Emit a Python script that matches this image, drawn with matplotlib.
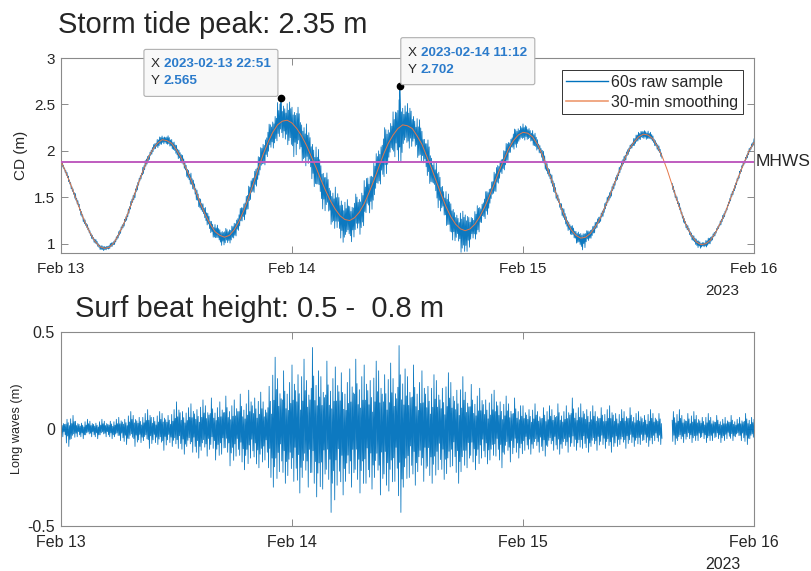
import numpy as np
import matplotlib
matplotlib.use('Agg')
import matplotlib.pyplot as plt
import matplotlib.dates as mdates
from matplotlib.patches import FancyBboxPatch
from matplotlib.lines import Line2D
from matplotlib.ticker import FuncFormatter
from matplotlib.transforms import IdentityTransform, blended_transform_factory

plt.rcParams['font.family'] = ['Liberation Sans', 'DejaVu Sans']

nan = np.nan
start = np.datetime64('2023-02-13T00:00:00')

# ---------------- data ----------------
bin_hours = np.arange(0, 72.5, 0.5)          # 30-min bins from Feb 13 00:00

tide_smooth = [
    1.89, 1.77, 1.64, 1.50, 1.36, 1.23, 1.12, 1.03, 0.97, 0.95,
    0.96, 1.01, 1.10, 1.21, 1.34, 1.49, 1.64, 1.78, 1.91, 2.01,
    2.08, 2.12, 2.11, 2.08, 2.01, 1.92, 1.81, 1.69, 1.56, 1.43,
    1.31, 1.21, 1.13, 1.09, 1.07, 1.09, 1.15, 1.24, 1.36, 1.50,
    1.65, 1.81, 1.96, 2.09, 2.20, 2.28, 2.32, 2.33, 2.30, 2.24,
    2.16, 2.06, 1.94, 1.82, 1.69, 1.57, 1.46, 1.37, 1.30, 1.26,
    1.25, 1.28, 1.34, 1.43, 1.55, 1.68, 1.82, 1.96, 2.08, 2.17,
    2.24, 2.28, 2.27, 2.24, 2.16, 2.07, 1.94, 1.81, 1.67, 1.53,
    1.40, 1.29, 1.21, 1.16, 1.14, 1.16, 1.21, 1.29, 1.39, 1.51,
    1.64, 1.78, 1.90, 2.02, 2.11, 2.17, 2.20, 2.19, 2.15, 2.07,
    1.96, 1.82, 1.68, 1.52, 1.38, 1.25, 1.15, 1.09, 1.06, 1.07,
    1.11, 1.18, 1.27, 1.39, 1.51, 1.65, 1.78, 1.90, 2.01, 2.09,
    2.15, 2.18, 2.17, 2.13, 2.04, 1.93, 1.79, 1.63, 1.47, 1.32,
    1.19, 1.09, 1.02, 0.99, 1.00, 1.04, 1.12, 1.22, 1.33, 1.47,
    1.61, 1.75, 1.88, 2.00, 2.09,
]

# spread of the 60 s raw samples above / below the smoothed curve in each bin
raw_up = [
    0.02, 0.03, 0.02, 0.04, 0.02, 0.03, 0.02, 0.03, 0.02, 0.02, 0.03, 0.02,
    0.03, 0.02, 0.04, 0.03, 0.03, 0.05, 0.03, 0.04, 0.05, 0.04, 0.06, 0.05,
    0.05, 0.06, 0.04, 0.07, 0.05, 0.06, 0.08, 0.05, 0.09, 0.06, 0.09, 0.07,
    0.07, 0.11, 0.08, 0.12, 0.09, 0.15, 0.11, 0.17, 0.13, 0.24, 0.16, 0.21,
    0.17, 0.25, 0.14, 0.23, 0.16, 0.26, 0.15, 0.22, 0.13, 0.24, 0.17, 0.22,
    0.15, 0.24, 0.16, 0.25, 0.14, 0.22, 0.18, 0.26, 0.17, 0.25, 0.30, 0.21,
    0.24, 0.15, 0.22, 0.14, 0.21, 0.13, 0.20, 0.12, 0.19, 0.14, 0.11, 0.20,
    0.17, 0.11, 0.16, 0.10, 0.14, 0.09, 0.13, 0.08, 0.12, 0.07, 0.11, 0.08,
    0.09, 0.06, 0.08, 0.05, 0.07, 0.05, 0.06, 0.04, 0.06, 0.04, 0.06, 0.05,
    0.05, 0.06, 0.04, 0.05, 0.03, 0.05, 0.04, 0.03, 0.05, 0.04, 0.03, 0.05,
    0.05, 0.04, 0.05, 0.03, 0.04, nan, nan, 0.03, 0.04, 0.02, 0.03, 0.03,
    0.03, 0.02, 0.04, 0.03, 0.02, 0.03, 0.02, 0.03, 0.02, 0.03, 0.02, 0.03,
    0.04,
]
raw_dn = [
    0.02, 0.02, 0.03, 0.02, 0.04, 0.02, 0.03, 0.02, 0.03, 0.02, 0.02, 0.03,
    0.03, 0.04, 0.03, 0.05, 0.03, 0.04, 0.04, 0.03, 0.05, 0.04, 0.04, 0.05,
    0.06, 0.04, 0.07, 0.05, 0.08, 0.05, 0.07, 0.09, 0.06, 0.10, 0.07, 0.09,
    0.10, 0.07, 0.12, 0.08, 0.13, 0.09, 0.16, 0.12, 0.18, 0.14, 0.20, 0.26,
    0.34, 0.17, 0.26, 0.15, 0.25, 0.16, 0.27, 0.15, 0.24, 0.17, 0.26, 0.16,
    0.24, 0.15, 0.25, 0.14, 0.26, 0.17, 0.23, 0.28, 0.16, 0.26, 0.39, 0.20,
    0.23, 0.14, 0.22, 0.15, 0.21, 0.13, 0.23, 0.14, 0.19, 0.22, 0.15, 0.25,
    0.23, 0.13, 0.17, 0.10, 0.15, 0.09, 0.13, 0.10, 0.12, 0.07, 0.11, 0.07,
    0.08, 0.06, 0.08, 0.05, 0.07, 0.05, 0.06, 0.04, 0.06, 0.07, 0.05, 0.08,
    0.13, 0.06, 0.06, 0.04, 0.05, 0.03, 0.05, 0.04, 0.03, 0.04, 0.03, 0.04,
    0.04, 0.05, 0.03, 0.04, 0.03, nan, nan, 0.03, 0.02, 0.04, 0.03, 0.04,
    0.05, 0.03, 0.04, 0.03, 0.02, 0.03, 0.02, 0.03, 0.03, 0.02, 0.03, 0.02,
    0.02,
]

tip_hours = [22 + 51 / 60, 35 + 12 / 60]
tip_values = [2.565, 2.702]
tip_labels = ['2023-02-13 22:51', '2023-02-14 11:12']
tip_sides = ['left', 'right']

mhws_level = 1.88

# long waves: highest / lowest sample in each 30-min bin
lw_max = [
    0.04, 0.05, 0.07, 0.04, 0.03, 0.05, 0.04, 0.03, 0.05, 0.04, 0.04, 0.05,
    0.06, 0.05, 0.09, 0.07, 0.06, 0.08, 0.10, 0.06, 0.09, 0.08, 0.07, 0.10,
    0.14, 0.09, 0.11, 0.13, 0.10, 0.15, 0.12, 0.16, 0.11, 0.14, 0.17, 0.12,
    0.15, 0.18, 0.13, 0.20, 0.16, 0.19, 0.14, 0.22, 0.37, 0.26, 0.30, 0.24,
    0.33, 0.28, 0.36, 0.25, 0.42, 0.30, 0.27, 0.35, 0.26, 0.32, 0.29, 0.24,
    0.31, 0.36, 0.27, 0.33, 0.25, 0.35, 0.30, 0.28, 0.34, 0.26, 0.43, 0.31,
    0.27, 0.33, 0.24, 0.30, 0.22, 0.28, 0.25, 0.21, 0.29, 0.24, 0.20, 0.27,
    0.19, 0.23, 0.17, 0.21, 0.15, 0.18, 0.20, 0.14, 0.17, 0.13, 0.16, 0.12,
    0.12, 0.10, 0.13, 0.09, 0.11, 0.12, 0.10, 0.13, 0.09, 0.12, 0.16, 0.11,
    0.13, 0.10, 0.12, 0.09, 0.11, 0.10, 0.12, 0.08, 0.10, 0.09, 0.11, 0.08,
    0.09, 0.07, 0.10, 0.08, 0.08, nan, nan, 0.09, 0.10, 0.07, 0.08, 0.09,
    0.07, 0.06, 0.08, 0.06, 0.07, 0.05, 0.06, 0.07, 0.05, 0.06, 0.08, 0.06,
    0.05,
]
lw_min = [
    -0.04, -0.09, -0.05, -0.04, -0.05, -0.03, -0.04, -0.05, -0.03, -0.04, -0.05, -0.04,
    -0.06, -0.08, -0.05, -0.09, -0.07, -0.06, -0.10, -0.07, -0.08, -0.11, -0.07, -0.09,
    -0.10, -0.13, -0.09, -0.12, -0.15, -0.11, -0.14, -0.10, -0.16, -0.13, -0.12, -0.19,
    -0.14, -0.17, -0.21, -0.15, -0.18, -0.20, -0.16, -0.25, -0.30, -0.22, -0.28, -0.24,
    -0.27, -0.33, -0.25, -0.30, -0.28, -0.35, -0.31, -0.26, -0.43, -0.29, -0.34, -0.27,
    -0.30, -0.26, -0.33, -0.28, -0.31, -0.25, -0.34, -0.29, -0.32, -0.27, -0.43, -0.30,
    -0.25, -0.29, -0.22, -0.27, -0.24, -0.28, -0.21, -0.26, -0.23, -0.19, -0.28, -0.22,
    -0.20, -0.17, -0.21, -0.15, -0.18, -0.16, -0.14, -0.20, -0.13, -0.17, -0.12, -0.15,
    -0.11, -0.13, -0.10, -0.12, -0.14, -0.09, -0.11, -0.13, -0.10, -0.12, -0.09, -0.11,
    -0.10, -0.12, -0.09, -0.11, -0.08, -0.10, -0.12, -0.09, -0.08, -0.10, -0.07, -0.09,
    -0.08, -0.07, -0.09, -0.06, -0.08, nan, nan, -0.08, -0.06, -0.07, -0.05, -0.07,
    -0.06, -0.05, -0.07, -0.06, -0.05, -0.07, -0.05, -0.06, -0.04, -0.06, -0.08, -0.05,
    -0.05,
]

for name, arr in [('tide_smooth', tide_smooth), ('raw_up', raw_up), ('raw_dn', raw_dn),
                  ('lw_max', lw_max), ('lw_min', lw_min)]:
    assert len(arr) == len(bin_hours), (name, len(arr))

# Drawing style of a dense 60 s trace inside each 30-min bin: the order in which the
# trace visits fractions of the bin's upper (+) and lower (-) extremes.
tide_trace_pattern = np.array([
    [1.00, -0.70, 0.60, -1.00, 0.85, -0.50, 0.75, -0.85],
    [0.65, -0.90, 1.00, -0.55, 0.80, -1.00, 0.50, -0.75],
    [0.85, -1.00, 0.55, -0.80, 1.00, -0.65, 0.70, -0.90],
])
wave_trace_pattern = np.array([
    [1.00, -0.55, 0.45, -1.00, 0.70, -0.35, 0.60, -0.75],
    [0.50, -0.80, 1.00, -0.40, 0.65, -1.00, 0.35, -0.60],
    [0.75, -1.00, 0.40, -0.65, 1.00, -0.50, 0.55, -0.85],
])


# ---------------- helpers ----------------
def to_num(hours):
    h = np.asarray(hours, dtype=float)
    dt = start + np.round(h * 3600).astype('int64').astype('timedelta64[s]')
    return mdates.date2num(dt)


def dense_trace(upper, lower, pattern):
    """Sub-bin times and signed offsets visiting the per-bin extremes."""
    n = len(bin_hours)
    m = pattern.shape[1]
    pat = pattern[np.arange(n) % len(pattern)]
    sub_h = (bin_hours[:, None] + np.arange(m)[None, :] * (0.5 / m)).ravel()
    up_ = np.asarray(upper, dtype=float)[:, None]
    lo_ = np.abs(np.asarray(lower, dtype=float))[:, None]
    off = np.where(pat > 0, pat * up_, pat * lo_).ravel()
    return sub_h, off


BLUE = '#0072BD'
ORANGE = '#E5784A'
MAGENTA = '#BF5CBF'
TXT = '#262626'
SPINE = '#8a8a8a'

fig = plt.figure(figsize=(8.12, 5.71), dpi=100, facecolor='white')
W, H = 812.0, 571.0
ax1 = fig.add_axes([61 / W, 1 - 253 / H, 693 / W, 195 / H])
ax2 = fig.add_axes([61 / W, 1 - 526 / H, 693 / W, 194 / H])

t_bin = to_num(bin_hours)
smooth = np.asarray(tide_smooth)

# ---------------- top: storm tide ----------------
sub_h, off = dense_trace(raw_up, raw_dn, tide_trace_pattern)
raw_vals = np.interp(sub_h, bin_hours, smooth) + off
keys = np.concatenate([sub_h, tip_hours])
vals = np.concatenate([raw_vals, tip_values])
order = np.argsort(keys, kind='stable')
ax1.plot(to_num(keys[order]), vals[order], color=BLUE, lw=0.6, alpha=0.95, zorder=2)
ax1.plot(t_bin, smooth, color=ORANGE, lw=0.7, zorder=3)
ax1.axhline(mhws_level, color=MAGENTA, lw=1.4, zorder=4)
ax1.text(1.003, mhws_level, 'MHWS',
         transform=blended_transform_factory(ax1.transAxes, ax1.transData),
         ha='left', va='center', fontsize=12.5, color=TXT, clip_on=False)
ax1.plot(to_num(tip_hours), tip_values, 'o', color='black', ms=4.5, zorder=6)

ax1.set_ylim(0.9, 3.0)
ax1.set_yticks([1, 1.5, 2, 2.5, 3])
ax1.set_ylabel('CD (m)', fontsize=11, color=TXT)
ax1.yaxis.set_label_coords(-0.048, 0.5)

# ---------------- bottom: long waves ----------------
sub_h2, off2 = dense_trace(lw_max, lw_min, wave_trace_pattern)
ax2.plot(to_num(sub_h2), off2, color=BLUE, lw=0.6, alpha=0.95, zorder=2)
ax2.set_ylim(-0.5, 0.5)
ax2.set_yticks([-0.5, 0, 0.5])
ax2.set_ylabel('Long waves (m)', fontsize=9.2, color=TXT)
ax2.yaxis.set_label_coords(-0.055, 0.5)

# ---------------- common axis styling ----------------
day_ticks = to_num([0, 24, 48, 72])
fmt_g = FuncFormatter(lambda v, p: '%g' % v)
for ax, fs in ((ax1, 11), (ax2, 11.5)):
    ax.set_xlim(to_num(0), to_num(72))
    ax.set_xticks(day_ticks)
    ax.xaxis.set_major_formatter(mdates.DateFormatter('%b %d'))
    ax.yaxis.set_major_formatter(fmt_g)
    ax.tick_params(axis='both', direction='in', length=5, width=0.7, color=SPINE,
                   labelcolor=TXT, labelsize=fs, top=True, right=True)
    ax.tick_params(axis='x', pad=6.5)
    ax.tick_params(axis='y', pad=4.3)
    for s in ax.spines.values():
        s.set_color(SPINE)
        s.set_linewidth(0.8)
    ax.annotate('2023', xy=(0.9545, 0), xycoords='axes fraction',
                xytext=(0, -31), textcoords='offset pixels',
                ha='center', va='top', fontsize=fs, color=TXT)

# legend
handles = [Line2D([], [], color=BLUE, lw=1.0), Line2D([], [], color='#EE9A70', lw=1.2)]
leg = ax1.legend(handles, ['60s raw sample', '30-min smoothing'], loc='upper right',
                 bbox_to_anchor=(743 / W, 1 - 70 / H), bbox_transform=fig.transFigure,
                 borderaxespad=0, fontsize=11.5, frameon=True, fancybox=False,
                 borderpad=0.3, labelspacing=0.3, handlelength=2.6,
                 handletextpad=0.2)
leg.get_frame().set_edgecolor('#333333')
leg.get_frame().set_linewidth(0.7)
leg.get_frame().set_alpha(1)
leg.set_zorder(20)
for txt in leg.get_texts():
    txt.set_color(TXT)

# titles
fig.text(58 / W, 1 - 33 / H, 'Storm tide peak: 2.35 m', fontsize=21, color=TXT,
         ha='left', va='baseline')
fig.text(75 / W, 1 - 317 / H, 'Surf beat height: 0.5 -  0.8 m', fontsize=21, color=TXT,
         ha='left', va='baseline')

# data tips
ident = IdentityTransform()
for th, tv, lab, side in zip(tip_hours, tip_values, tip_labels, tip_sides):
    px, py = ax1.transData.transform((to_num(th), tv))
    bw, bh = 134, 47
    if side == 'left':
        x0 = px - 3 - bw
        y0 = py + 2
    else:
        x0 = px + 1
        y0 = py + 1
    box = FancyBboxPatch((x0, y0), bw, bh, boxstyle='round,pad=0,rounding_size=2',
                         transform=ident, facecolor='#F8F8F8', edgecolor='#B0B0B0',
                         lw=0.8, zorder=10)
    fig.add_artist(box)
    ytop = y0 + bh
    for i, (key, val) in enumerate((('X', lab), ('Y', '%.3f' % tv))):
        yc = ytop - 15 - 17 * i
        fig.text(x0 + 7, yc, key, transform=ident, fontsize=9.7, color=TXT,
                 ha='left', va='center', zorder=11)
        fig.text(x0 + 20, yc, val, transform=ident, fontsize=9.7, color='#2B7BCB',
                 fontweight='bold', ha='left', va='center', zorder=11)

fig.savefig('out.png', dpi=100, facecolor='white')
